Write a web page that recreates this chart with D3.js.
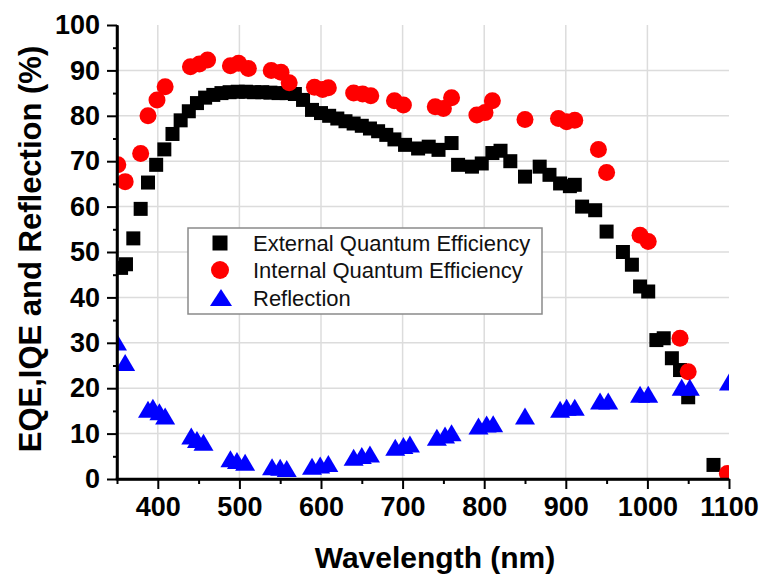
<!DOCTYPE html>
<html>
<head>
<meta charset="utf-8">
<script src="https://cdn.jsdelivr.net/npm/d3@7"></script>
<style>
  html, body { margin: 0; padding: 0; background: #fff; }
  svg { display: block; }
  text { font-family: "Liberation Sans", Arial, sans-serif; }
</style>
</head>
<body>
<svg id="chart" width="767" height="580"></svg>
<script>
// ---- data ----
const xTicks = [400, 500, 600, 700, 800, 900, 1000, 1100];
const xMinorTicks = [350, 450, 550, 650, 750, 850, 950, 1050];
const yTicks = [0, 10, 20, 30, 40, 50, 60, 70, 80, 90, 100];
const yMinorTicks = [5, 15, 25, 35, 45, 55, 65, 75, 85, 95];

const eqeWl  = [355, 361, 370, 379, 388, 398, 408, 418, 428, 438, 448, 458, 468, 478, 488, 498, 508, 518, 528, 538, 548, 558, 568, 578, 589, 600, 610, 620, 630, 640, 650, 660, 670, 680, 690, 703, 719, 732, 744, 760, 768, 785, 797, 810, 820, 832, 850, 868, 880, 893, 905, 911, 920, 936, 950, 970, 981, 991, 1001, 1011, 1020, 1030, 1040, 1050, 1081];
const eqeVal = [46.5, 47.3, 53, 59.5, 65.3, 69.2, 72.6, 76, 79, 81, 82.8, 84, 84.6, 85, 85.2, 85.3, 85.3, 85.2, 85.2, 85.1, 85, 85, 84.8, 83.5, 81.3, 80.6, 80, 79.4, 78.8, 78.3, 77.8, 77.2, 76.6, 75.8, 74.8, 73.6, 72.8, 73.2, 72.5, 74, 69.2, 68.8, 69.5, 71.8, 72.3, 70, 66.6, 68.8, 67, 65.1, 64.5, 64.8, 60, 59.2, 54.5, 50, 47.2, 42.4, 41.3, 30.6, 31, 26.6, 24, 18, 3.1];

const iqeWl  = [351, 360, 379, 388, 399, 409, 440, 451, 461, 489, 499, 511, 539, 551, 561, 592, 602, 609, 640, 651, 661, 690, 701, 740, 750, 760, 791, 801, 810, 850, 891, 901, 911, 940, 950, 991, 1001, 1040, 1050, 1098];
const iqeVal = [69.2, 65.5, 71.7, 80, 83.5, 86.4, 90.8, 91.4, 92.3, 91, 91.6, 90.4, 90, 89.6, 87.3, 86.3, 85.8, 86.2, 85, 84.8, 84.4, 83.3, 82.4, 82, 81.6, 84, 80.2, 80.7, 83.3, 79.2, 79.4, 78.7, 79, 72.6, 67.5, 53.7, 52.3, 31, 23.6, 1.2];

const refWl  = [350, 360, 388, 394, 402, 409, 441, 448, 456, 489, 497, 507, 540, 550, 558, 589, 599, 609, 640, 650, 660, 691, 701, 709, 742, 752, 760, 793, 803, 811, 850, 893, 901, 911, 942, 952, 991, 1001, 1042, 1052, 1100];
const refVal = [30, 25.5, 15.2, 15.6, 14.6, 13.7, 9.3, 8.5, 7.9, 4.3, 3.9, 3.5, 2.5, 2.4, 2.1, 2.6, 2.9, 3.2, 4.6, 5.0, 5.3, 6.8, 7.2, 7.5, 9, 9.5, 10, 11.5, 11.9, 12, 13.7, 15.2, 15.6, 15.6, 17, 17, 18.5, 18.5, 20, 20, 21.2];

const seriesNames = ["External Quantum Efficiency", "Internal Quantum Efficiency", "Reflection"];
const seriesColors = ["#000000", "#ff0000", "#0000ff"];

// ---- layout ----
const L = 117, R = 729, T = 25, B = 479;
const svg = d3.select("#chart");
const x = d3.scaleLinear().domain([350, 1100]).range([L, R]);
const y = d3.scaleLinear().domain([0, 100]).range([B, T]);

// grid
const grid = svg.append("g");
grid.selectAll("line.h").data(yTicks.filter(d => d > 0 && d < 100)).enter().append("line")
  .attr("x1", L).attr("x2", R).attr("y1", d => y(d)).attr("y2", d => y(d))
  .attr("stroke", "#dcdcdc").attr("stroke-width", 1.5);
grid.selectAll("line.v").data(xTicks.filter(d => d < 1100)).enter().append("line")
  .attr("y1", T).attr("y2", B).attr("x1", d => x(d)).attr("x2", d => x(d))
  .attr("stroke", "#dcdcdc").attr("stroke-width", 1.5);

// clip
svg.append("clipPath").attr("id", "plotclip").append("rect")
  .attr("x", L).attr("y", T).attr("width", R - L).attr("height", B - T);
const plot = svg.append("g").attr("clip-path", "url(#plotclip)");

// markers
const sq = 14;
plot.append("g").selectAll("rect").data(eqeWl.map((w, i) => [w, eqeVal[i]])).enter().append("rect")
  .attr("x", d => x(d[0]) - sq / 2).attr("y", d => y(d[1]) - sq / 2)
  .attr("width", sq).attr("height", sq).attr("fill", seriesColors[0]);

plot.append("g").selectAll("circle").data(iqeWl.map((w, i) => [w, iqeVal[i]])).enter().append("circle")
  .attr("cx", d => x(d[0])).attr("cy", d => y(d[1])).attr("r", 8.5).attr("fill", seriesColors[1]);

const tw = 20, th = 17;
const triPath = (cx, cy) => `M${cx},${cy - th * 0.55}L${cx + tw / 2},${cy + th * 0.45}L${cx - tw / 2},${cy + th * 0.45}Z`;
plot.append("g").selectAll("path").data(refWl.map((w, i) => [w, refVal[i]])).enter().append("path")
  .attr("d", d => triPath(x(d[0]), y(d[1]))).attr("fill", seriesColors[2]);

// axes
const axStyle = g => {
  g.selectAll(".domain").attr("stroke", "#000").attr("stroke-width", 2.5);
  g.selectAll(".tick line").attr("stroke", "#000").attr("stroke-width", 2);
  g.selectAll(".tick text").attr("fill", "#000").style("font-weight", "bold").style("font-size", "27px")
    .style("font-family", '"Liberation Sans", Arial, sans-serif');
};
svg.append("g").attr("transform", `translate(0,${B})`)
  .call(d3.axisBottom(x).tickValues(xMinorTicks).tickSize(5).tickFormat("").tickSizeOuter(0))
  .call(g => g.select(".domain").remove())
  .call(axStyle);
svg.append("g").attr("transform", `translate(${L},0)`)
  .call(d3.axisLeft(y).tickValues(yMinorTicks).tickSize(4).tickFormat("").tickSizeOuter(0))
  .call(g => g.select(".domain").remove())
  .call(axStyle);
svg.append("g").attr("transform", `translate(0,${B})`)
  .call(d3.axisBottom(x).tickValues(xTicks).tickSize(10).tickPadding(8).tickFormat(d3.format("d")).tickSizeOuter(0))
  .call(axStyle);
svg.append("g").attr("transform", `translate(${L},0)`)
  .call(d3.axisLeft(y).tickValues(yTicks).tickSize(10).tickPadding(7).tickFormat(d3.format("d")).tickSizeOuter(0))
  .call(axStyle);
// draw x domain fully from the y-axis
svg.append("line").attr("x1", L - 1.25).attr("x2", R).attr("y1", B).attr("y2", B)
  .attr("stroke", "#000").attr("stroke-width", 2.5);
svg.append("line").attr("x1", L).attr("x2", L).attr("y1", T).attr("y2", B + 1.25)
  .attr("stroke", "#000").attr("stroke-width", 2.5);

// axis titles
svg.append("text").attr("x", (L + R) / 2 + 12).attr("y", 568)
  .attr("text-anchor", "middle").style("font-weight", "bold").style("font-size", "30px")
  .text("Wavelength (nm)");
svg.append("text").attr("transform", `translate(41,249) rotate(-90)`)
  .attr("text-anchor", "middle").style("font-weight", "bold").style("font-size", "31px")
  .text("EQE,IQE and Reflection (%)");

// legend
const lg = svg.append("g");
lg.append("rect").attr("x", 188).attr("y", 228).attr("width", 354).attr("height", 86)
  .attr("fill", "#fff").attr("stroke", "#8a8a8a").attr("stroke-width", 1.5);
const rowsY = [243, 270, 298];
lg.append("rect").attr("x", 220 - 7.5).attr("y", rowsY[0] - 7.5).attr("width", 15).attr("height", 15).attr("fill", seriesColors[0]);
lg.append("circle").attr("cx", 220).attr("cy", rowsY[1]).attr("r", 9).attr("fill", seriesColors[1]);
lg.append("path").attr("d", `M221,${rowsY[2] - 9}L232,${rowsY[2] + 8}L210,${rowsY[2] + 8}Z`).attr("fill", seriesColors[2]);
lg.selectAll("text").data(seriesNames).enter().append("text")
  .attr("x", 253).attr("y", (d, i) => rowsY[i] + 8)
  .style("font-size", "22px").attr("fill", "#111").text(d => d);
</script>
</body>
</html>
